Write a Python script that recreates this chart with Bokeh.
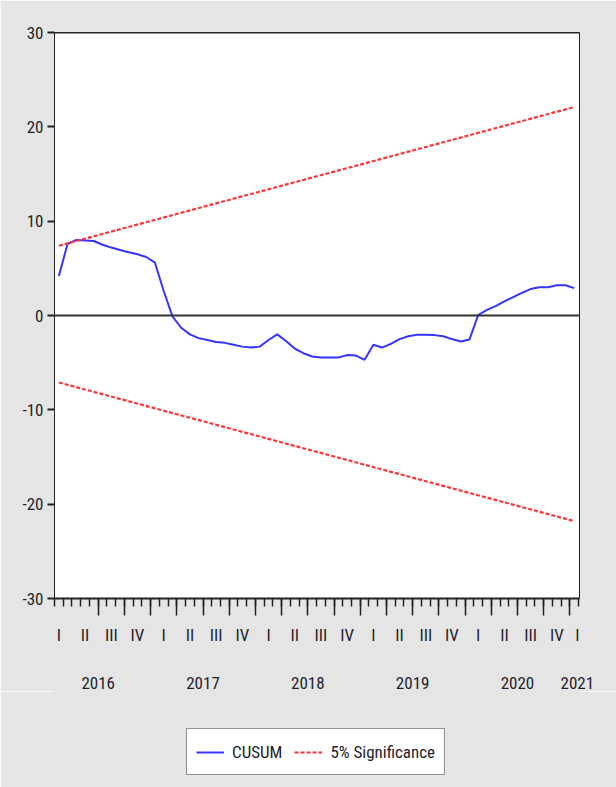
import numpy as np
from bokeh.plotting import figure
from bokeh.layouts import column
from bokeh.models import (Range1d, FixedTicker, LinearAxis, Span, Legend, LegendItem,
                          CustomLabelingPolicy)
from bokeh.embed import file_html
from bokeh.resources import INLINE

# ---------------- data ----------------
cusum = [4.2, 7.6, 8.0, 7.95, 7.9, 7.5, 7.2, 6.95, 6.7, 6.5,
         6.2, 5.6, 2.6, -0.1, -1.3, -2.0, -2.4, -2.6, -2.8, -2.9,
         -3.1, -3.3, -3.4, -3.3, -2.6, -2.0, -2.7, -3.5, -4.0, -4.35,
         -4.45, -4.45, -4.45, -4.2, -4.25, -4.7, -3.1, -3.4, -3.0, -2.5,
         -2.2, -2.05, -2.05, -2.08, -2.2, -2.5, -2.75, -2.55, 0.05, 0.6,
         1.0, 1.5, 1.95, 2.4, 2.8, 3.0, 3.0, 3.2, 3.2, 2.9]
sig_upper = [7.4, 22.1]      # 5% bound at first and last observation
sig_lower = [-7.1, -21.8]
quarter_labels = ["I", "II", "III", "IV"] * 5 + ["I"]
year_labels = ["2016", "2017", "2018", "2019", "2020", "2021"]
y_ticks = [-30, -20, -10, 0, 10, 20, 30]
series_names = ["CUSUM", "5% Significance"]

# ---------------- positions ----------------
n = len(cusum)
obs = np.arange(n)
bound_x = [0, n - 1]
last_pos = n - 0.65
quarter_pos = [3 * k for k in range(len(quarter_labels) - 1)] + [last_pos]
year_pos = [4.5 + 12 * k for k in range(len(year_labels) - 1)] + [last_pos]
minor_pos = [k - 0.5 for k in range(n + 1)]
major_pos = [4.5 + 3 * k for k in range(19)]

FONT = "'Roboto Condensed', 'Liberation Sans Narrow', 'Liberation Sans', sans-serif"
TXT = "#1e1e2e"
FS = "17px"
BG = "#e5e5e5"
BLUE = "#3535ff"
RED = "#ff3535"

p = figure(frame_width=525, frame_height=566, x_range=Range1d(-0.5, 59.6), y_range=Range1d(-30, 30),
           output_backend="svg", toolbar_location=None,
           min_border_left=54, min_border_right=37, min_border_top=32, min_border_bottom=0)
p.grid.visible = False
p.background_fill_color = "white"
p.border_fill_color = BG
p.outline_line_color = "#222222"
p.outline_line_width = 1

# y axis
ya = p.yaxis[0]
ya.ticker = FixedTicker(ticks=y_ticks)
ya.major_label_overrides = {v: str(v) for v in y_ticks}
ya.major_tick_out = 7
ya.major_tick_in = 0
ya.major_tick_line_width = 2
ya.major_tick_line_color = "#222222"
ya.axis_line_color = "#222222"
ya.major_label_standoff = 4
ya.major_label_text_font = FONT
ya.major_label_text_font_size = FS
ya.major_label_text_color = TXT

# x tick axis (ticks only, labels suppressed)
xa = p.xaxis[0]
xa.ticker = FixedTicker(ticks=major_pos, minor_ticks=minor_pos)
xa.major_label_policy = CustomLabelingPolicy(code="""
    for (const i of indices) { indices.unset(i) }
    return indices
""")
xa.major_tick_out = 17
xa.major_tick_in = 0
xa.minor_tick_out = 8
xa.minor_tick_in = 0
xa.major_tick_line_color = "#222222"
xa.minor_tick_line_color = "#222222"
xa.major_tick_line_width = 1.5
xa.minor_tick_line_width = 1.5
xa.axis_line_color = "#222222"
xa.axis_line_width = 2
xa.major_label_text_font_size = "0px"
xa.major_label_standoff = 0

# quarter labels
qa = LinearAxis(ticker=FixedTicker(ticks=quarter_pos),
                major_label_overrides={pos: lab for pos, lab in zip(quarter_pos, quarter_labels)})
# year labels
yra = LinearAxis(ticker=FixedTicker(ticks=year_pos),
                 major_label_overrides={pos: lab for pos, lab in zip(year_pos, year_labels)})
for ax, so in ((qa, 9), (yra, 29)):
    ax.axis_line_color = None
    ax.major_tick_line_color = None
    ax.minor_tick_line_color = None
    ax.major_tick_out = 0
    ax.major_tick_in = 0
    ax.major_label_standoff = so
    ax.major_label_text_font = FONT
    ax.major_label_text_font_size = FS
    ax.major_label_text_color = TXT
    p.add_layout(ax, "below")

# zero line and top edge
p.add_layout(Span(location=0, dimension="width", line_color="#333333", line_width=2))
p.add_layout(Span(location=30, dimension="width", line_color="#222222", line_width=2))

p.line(obs, cusum, line_color=BLUE, line_width=2)
p.line(bound_x, sig_upper, line_color=RED, line_width=2.2, line_dash="4 2")
p.line(bound_x, sig_lower, line_color=RED, line_width=2.2, line_dash="4 2")

# ---------------- legend strip (separate figure below) ----------------
# its ranges lie far from the data, so only the legend is visible there
lf = figure(width=616, height=97, x_range=Range1d(1000, 1001), y_range=Range1d(1000, 1001),
            x_axis_type=None, y_axis_type=None,
            output_backend="svg", toolbar_location=None,
            min_border_left=0, min_border_right=0, min_border_top=0, min_border_bottom=0)
lf.grid.visible = False
lf.background_fill_color = BG
lf.border_fill_color = BG
lf.outline_line_color = BG
lf.outline_line_width = 3
lr1 = lf.line(obs, cusum, line_color=BLUE, line_width=2)
lr2 = lf.line(bound_x, sig_upper, line_color=RED, line_width=2.2, line_dash="4 2")

legend = Legend(items=[LegendItem(label=series_names[0], renderers=[lr1]),
                       LegendItem(label=series_names[1], renderers=[lr2])],
                orientation="horizontal", location=(132, 13))
legend.glyph_width = 28
legend.glyph_height = 20
legend.label_standoff = 8
legend.spacing = 12
legend.padding = 9
legend.margin = 0
legend.label_height = 27
legend.label_text_font = FONT
legend.label_text_font_size = FS
legend.label_text_color = TXT
legend.border_line_color = "#222222"
legend.border_line_width = 1.5
legend.background_fill_color = "white"
legend.background_fill_alpha = 1
lf.add_layout(legend)

layout = column(p, lf, spacing=0)
open("out.html", "w").write(file_html(layout, INLINE))
